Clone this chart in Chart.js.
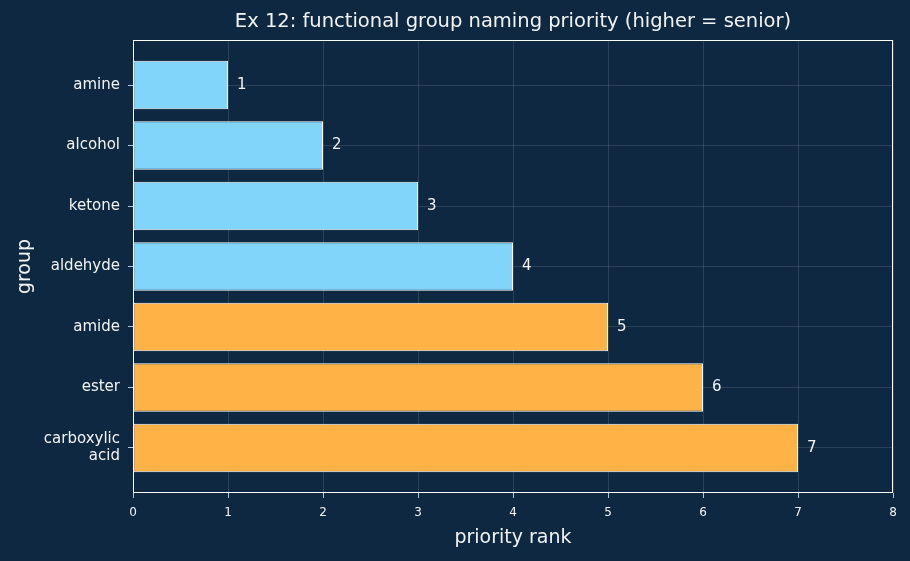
<!DOCTYPE html>
<html>
<head>
<meta charset="utf-8">
<script src="https://cdn.jsdelivr.net/npm/chart.js@4.4.1/dist/chart.umd.min.js"></script>
<style>
  html, body { margin: 0; padding: 0; background: #0e2841; }
  #wrap { width: 910px; height: 561px; }
</style>
</head>
<body>
<div id="wrap"><canvas id="chart" width="910" height="561"></canvas></div>
<script>
// ─── Data ─────────────────────────────────────────────
const groups = ['amine', 'alcohol', 'ketone', 'aldehyde', 'amide', 'ester', ['carboxylic', 'acid']];
const ranks  = [1, 2, 3, 4, 5, 6, 7];
const isAcidDerivative = [false, false, false, false, true, true, true];
const xTicks = [0, 1, 2, 3, 4, 5, 6, 7, 8];

const TITLE = 'Ex 12: functional group naming priority (higher = senior)';
const FONT  = "'DejaVu Sans', sans-serif";

const BG     = '#0e2841';
const BLUE   = '#81d4fa';
const ORANGE = '#ffb347';
const TEXT   = '#f0f4f8';
const GRID   = 'rgba(255,255,255,0.12)';
const TICK   = '#a9c8e2';

// ─── Plugins ──────────────────────────────────────────

const frame = {
    id: 'frame',
    beforeDraw(chart) {
        const { ctx, width, height } = chart;
        ctx.save();
        ctx.fillStyle = BG;
        ctx.fillRect(0, 0, width, height);
        ctx.restore();
    },
    afterDatasetsDraw(chart) {
        const { ctx, chartArea: a } = chart;
        ctx.save();
        ctx.strokeStyle = '#ffffff';
        ctx.lineWidth = 1;
        ctx.strokeRect(a.left + 0.5, a.top + 0.5, a.right - a.left - 1, a.bottom - a.top - 1);

        // title centred over the plot area
        ctx.fillStyle = TEXT;
        ctx.font = `19.5px ${FONT}`;
        ctx.textAlign = 'center';
        ctx.textBaseline = 'middle';
        ctx.fillText(TITLE, (a.left + a.right) / 2, 22);

        // value labels
        const meta = chart.getDatasetMeta(0);
        ctx.font = `15px ${FONT}`;
        ctx.textAlign = 'left';
        meta.data.forEach((bar, i) => {
            ctx.fillText(String(ranks[i]), bar.x + 9, bar.y);
        });
        ctx.restore();
    },
};

// ─── Chart ────────────────────────────────────────────

new Chart(document.getElementById('chart').getContext('2d'), {
    type: 'bar',
    data: {
        datasets: [{
            data: ranks.map((v, i) => ({ x: v, y: i })),
            backgroundColor: isAcidDerivative.map(a => a ? ORANGE : BLUE),
            borderColor: '#ffffff',
            borderWidth: 1,
            borderSkipped: false,
            barPercentage: 0.8,
            categoryPercentage: 1,
        }],
    },
    options: {
        indexAxis: 'y',
        responsive: false,
        animation: false,
        layout: { padding: { top: 40, right: 17, left: 14, bottom: 0 } },
        plugins: {
            legend: { display: false },
            tooltip: { enabled: false },
        },
        scales: {
            x: {
                type: 'linear',
                min: 0,
                max: 8,
                afterBuildTicks: s => { s.ticks = xTicks.map(v => ({ value: v })); },
                afterFit: s => { s.height = 68; },
                grid: { color: GRID, tickColor: TICK, tickLength: 5 },
                border: { display: false },
                ticks: { color: TEXT, font: { family: FONT, size: 12 }, padding: 8 },
                title: {
                    display: true,
                    text: 'priority rank',
                    color: TEXT,
                    font: { family: FONT, size: 19 },
                    padding: { top: 4, bottom: 12 },
                },
            },
            y: {
                type: 'linear',
                reverse: true,
                offset: false,
                min: -0.745,
                max: 6.745,
                afterBuildTicks: s => { s.ticks = groups.map((_, i) => ({ value: i })); },
                afterFit: s => { s.width = 119; },
                grid: { offset: false, color: GRID, tickColor: TICK, tickLength: 5 },
                border: { display: false },
                ticks: {
                    color: TEXT,
                    font: { family: FONT, size: 15, lineHeight: 1.15 },
                    padding: 8,
                    callback: v => groups[v],
                },
                title: {
                    display: true,
                    text: 'group',
                    color: TEXT,
                    font: { family: FONT, size: 19 },
                    padding: { top: 0, bottom: 0 },
                },
            },
        },
    },
    plugins: [frame],
});
</script>
</body>
</html>
